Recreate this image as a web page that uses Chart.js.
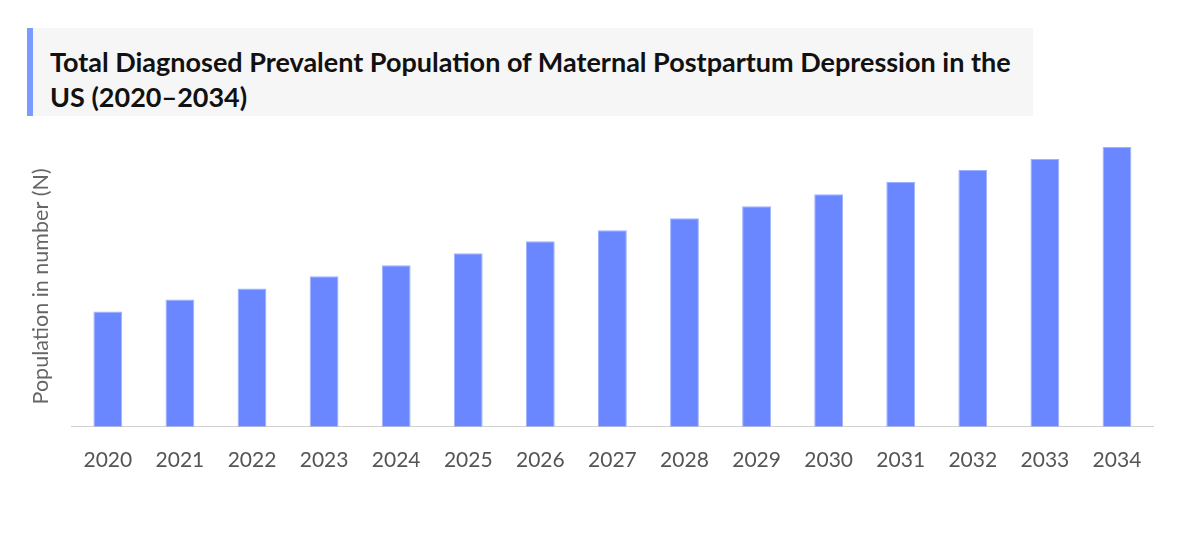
<!DOCTYPE html>
<html>
<head>
<meta charset="utf-8">
<script src="https://cdn.jsdelivr.net/npm/chart.js@4/dist/chart.umd.min.js"></script>
<style>
  html, body { margin: 0; padding: 0; background: #fff; }
  #wrap { position: relative; width: 1200px; height: 537px; }
  #title {
    position: absolute; left: 27px; top: 28px; width: 1006px; height: 88px;
    background: #f6f6f6; border-left: 6px solid #7b9bff;
    padding-left: 17px; box-sizing: border-box;
    font-family: Lato, sans-serif; font-weight: bold; font-size: 27px;
    line-height: 35px; color: #111; padding-top: 16px;
  }
  #chart { position: absolute; left: 0; top: 0; }
</style>
</head>
<body>
<div id="wrap">
  <canvas id="chart" width="1200" height="537"></canvas>
  <div id="title">Total Diagnosed Prevalent Population of Maternal Postpartum Depression in the US (2020–2034)</div>
</div>
<script>
  const years = ['2020', '2021', '2022', '2023', '2024', '2025', '2026', '2027',
                 '2028', '2029', '2030', '2031', '2032', '2033', '2034']
  // relative bar heights (no axis values shown)
  const population = [115, 127, 138, 150, 161, 173, 185, 196, 208, 220, 232, 244, 256, 267, 279]

  const ctx = document.getElementById('chart')
  new Chart(ctx, {
    type: 'bar',
    data: {
      labels: years,
      datasets: [
        {
          label: 'Population',
          data: population,
          backgroundColor: '#6b87ff',
          borderColor: '#9fb2ff',
          borderWidth: 1,
          barPercentage: 0.4,
          categoryPercentage: 1
        }
      ]
    },
    options: {
      responsive: false,
      animation: false,
      layout: { padding: { left: 28, right: 47, top: 146, bottom: 51 } },
      plugins: { legend: { display: false }, tooltip: { enabled: false } },
      scales: {
        x: {
          grid: { display: false },
          border: { color: '#d0d0d0' },
          ticks: { color: '#555', font: { family: 'Lato', size: 21 }, padding: 13 }
        },
        y: {
          min: 0,
          max: 280,
          grid: { display: false },
          border: { display: false },
          ticks: { display: false },
          title: {
            display: true,
            text: 'Population in number (N)',
            color: '#666',
            font: { family: 'Lato', size: 21.5 },
            padding: { top: 0, bottom: 10 }
          }
        }
      }
    }
  })
</script>
</body>
</html>
